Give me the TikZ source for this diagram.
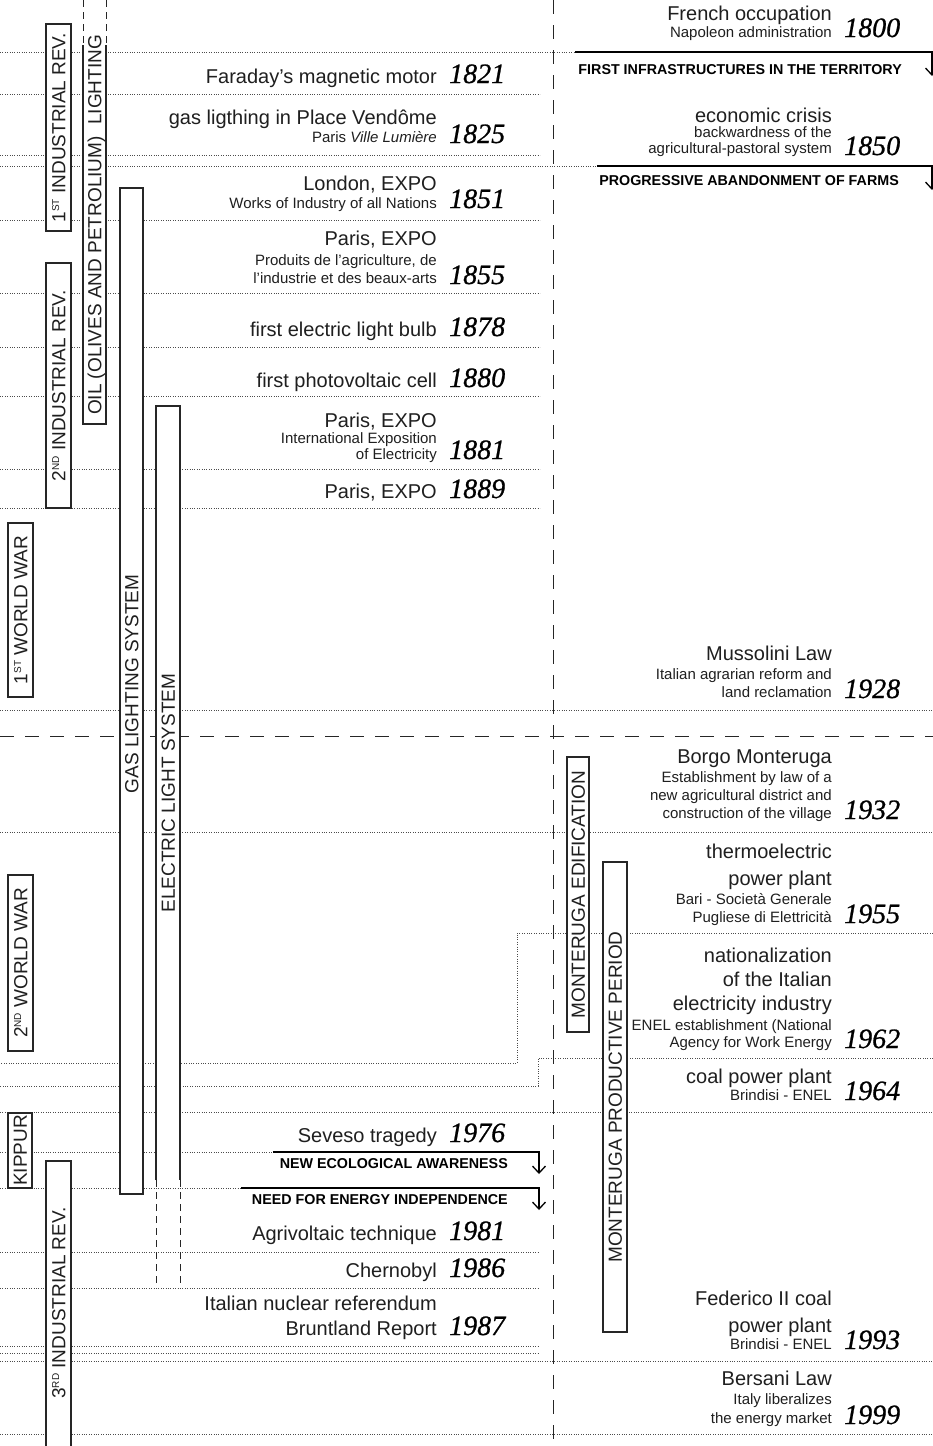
\documentclass[tikz,border=0pt]{standalone}
\usepackage{fontspec}
\setmainfont{Liberation Sans}
\newfontfamily\yearfont[FakeBold=0.8]{Liberation Serif}
\usetikzlibrary{arrows.meta}
\newcommand{\mf}{\fontsize{20}{24}\selectfont}
\newcommand{\subfn}{\fontsize{15}{18}\selectfont}
\newcommand{\yf}{\yearfont\itshape\fontsize{28}{30}\selectfont}
\newcommand{\bxf}{\fontsize{19}{22}\selectfont}
\newcommand{\bdf}{\bfseries\fontsize{14.3}{16}\selectfont}
\newcommand{\supcap}[1]{\raisebox{6.2pt}{\fontsize{10}{10}\selectfont #1}}
\tikzset{
  dotl/.style={line width=0.7pt, dash pattern=on 0.8pt off 1.6pt, black!70},
  boxl/.style={line width=1.1pt, draw=black!85, fill=white},
  boxo/.style={line width=1.1pt, draw=black!85},
  dashv/.style={line width=1pt, dash pattern=on 14pt off 11pt, black!85},
  dashs/.style={line width=1pt, dash pattern=on 7pt off 5pt, black!85},
  arrl/.style={line width=2pt, black, -{Straight Barb[length=7pt,width=13pt,line width=1.3pt]}},
  lt/.style={anchor=base east, inner sep=0pt, font=\mf, text=black!88},
  st/.style={anchor=base east, inner sep=0pt, font=\subfn, text=black!88},
  yr/.style={anchor=base west, inner sep=0pt, font=\yf},
  bl/.style={rotate=90, anchor=base, inner sep=0pt, font=\bxf, text=black!88},
  bd/.style={anchor=base east, inner sep=0pt, font=\bdf},
}
\begin{document}
\begin{tikzpicture}[x=1pt,y=-1pt]
\useasboundingbox (0,0) rectangle (933,1446);
\fill[white] (0,0) rectangle (933,1446);
% dotted separators
\draw[dotl] (0,52) -- (575,52);
\draw[dotl] (0,94) -- (540,94);
\draw[dotl] (0,155) -- (540,155);
\draw[dotl] (0,166) -- (597,166);
\draw[dotl] (0,220) -- (540,220);
\draw[dotl] (0,293) -- (540,293);
\draw[dotl] (0,347) -- (540,347);
\draw[dotl] (0,396) -- (540,396);
\draw[dotl] (0,469) -- (540,469);
\draw[dotl] (0,508) -- (540,508);
\draw[dotl] (0,710) -- (933,710);
\draw[dotl] (0,832) -- (933,832);
\draw[dotl] (933,933) -- (517,933) -- (517,1063) -- (0,1063);
\draw[dotl] (933,1058) -- (538,1058) -- (538,1086) -- (0,1086);
\draw[dotl] (0,1112) -- (933,1112);
\draw[dotl] (0,1152) -- (273,1152);
\draw[dotl] (0,1188) -- (241,1188);
\draw[dotl] (0,1252) -- (539,1252);
\draw[dotl] (0,1288) -- (539,1288);
\draw[dotl] (0,1346) -- (539,1346);
\draw[dotl] (0,1353) -- (539,1353);
\draw[dotl] (0,1361) -- (933,1361);
\draw[dotl] (0,1434) -- (933,1434);
% dashed dividers
\draw[dashv] (553,0) -- (553,1446);
\draw[dashv] (0,736) -- (933,736);
% boxes
\fill[white] (83,0) rectangle (106,424);
\draw[dashs] (83,0) -- (83,45);
\draw[dashs] (106,0) -- (106,45);
\draw[boxo] (83,45) -- (83,424) -- (106,424) -- (106,45);
\draw[boxl] (46,24) rectangle (71,231);
\draw[boxl] (46,263) rectangle (71,508);
\draw[boxl] (8,523) rectangle (33,697);
\draw[boxl] (120,188) rectangle (143,1194);
\fill[white] (156,406) rectangle (180,1180);
\draw[boxo] (156,1180) -- (156,406) -- (180,406) -- (180,1180);
\draw[dashs] (156,1180) -- (156,1288);
\draw[dashs] (180,1180) -- (180,1288);
\draw[boxl] (8,875) rectangle (33,1051);
\draw[boxl] (8,1113) rectangle (32,1188);
\draw[boxl] (46,1161) rectangle (71,1470);
\draw[boxl] (567,757) rectangle (589,1032);
\draw[boxl] (603,862) rectangle (627,1332);
% box labels
\node[bl] (b1ind) at (65.3,127.5) {1\supcap{ST} INDUSTRIAL REV.};
\node[bl] (b2ind) at (65.3,385.5) {2\supcap{ND} INDUSTRIAL REV.};
\node[bl] (boil) at (101.3,225) {OIL (OLIVES AND PETROLIUM)\hspace{0.6em}LIGHTING};
\node[bl] (b1ww) at (27.3,610) {1\supcap{ST} WORLD WAR};
\node[bl] (bgas) at (138.3,684) {GAS LIGHTING SYSTEM};
\node[bl] (belec) at (174.8,793) {ELECTRIC LIGHT SYSTEM};
\node[bl] (b2ww) at (27.3,963) {2\supcap{ND} WORLD WAR};
\node[bl] (bkip) at (26.8,1150.5) {KIPPUR};
\node[bl] (b3ind) at (65.3,1303) {3\supcap{RD} INDUSTRIAL REV.};
\node[bl] (bmed) at (584.8,894.5) {MONTERUGA EDIFICATION};
\node[bl] (bmpp) at (621.8,1097) {MONTERUGA PRODUCTIVE PERIOD};
% arrows
\coordinate (a1s) at (575,52); \coordinate (a1c) at (932,52); \coordinate (a1e) at (932,76);
\coordinate (a2s) at (597,166); \coordinate (a2c) at (932,166); \coordinate (a2e) at (932,190);
\coordinate (a3s) at (273,1152); \coordinate (a3c) at (539,1152); \coordinate (a3e) at (539,1174);
\coordinate (a4s) at (241,1188); \coordinate (a4c) at (539,1188); \coordinate (a4e) at (539,1210);
\draw[arrl] (a1s) -- (a1c) -- (a1e);
\draw[arrl] (a2s) -- (a2c) -- (a2e);
\draw[arrl] (a3s) -- (a3c) -- (a3e);
\draw[arrl] (a4s) -- (a4c) -- (a4e);
\node[bd] (tfirst) at (902,74) {FIRST INFRASTRUCTURES IN THE TERRITORY};
\node[bd] (tprog) at (899,185) {PROGRESSIVE ABANDONMENT OF FARMS};
\node[bd] (tnew) at (508,1168) {NEW ECOLOGICAL AWARENESS};
\node[bd] (tneed) at (508,1204) {NEED FOR ENERGY INDEPENDENCE};
% left column events
\node[lt] (e1821) at (437,83) {Faraday’s magnetic motor};
\node[yr] (y1821) at (449,83) {1821};
\node[lt] (e1825a) at (437,124) {gas ligthing in Place Vendôme};
\node[st] (e1825b) at (437,142) {Paris \textit{Ville Lumière}};
\node[yr] (y1825) at (449,143) {1825};
\node[lt] (e1851a) at (437,190) {London, EXPO};
\node[st] (e1851b) at (437,208) {Works of Industry of all Nations};
\node[yr] (y1851) at (449,208) {1851};
\node[lt] (e1855a) at (437,245) {Paris, EXPO};
\node[st] (e1855b) at (437,265) {Produits de l’agriculture, de};
\node[st] (e1855c) at (437,283) {l’industrie et des beaux-arts};
\node[yr] (y1855) at (449,284) {1855};
\node[lt] (e1878) at (437,336) {first electric light bulb};
\node[yr] (y1878) at (449,336) {1878};
\node[lt] (e1880) at (437,387) {first photovoltaic cell};
\node[yr] (y1880) at (449,387) {1880};
\node[lt] (e1881a) at (437,427) {Paris, EXPO};
\node[st] (e1881b) at (437,443) {International Exposition};
\node[st] (e1881c) at (437,459) {of Electricity};
\node[yr] (y1881) at (449,459) {1881};
\node[lt] (e1889) at (437,498) {Paris, EXPO};
\node[yr] (y1889) at (449,498) {1889};
\node[lt] (e1976) at (437,1142) {Seveso tragedy};
\node[yr] (y1976) at (449,1142) {1976};
\node[lt] (e1981) at (437,1240) {Agrivoltaic technique};
\node[yr] (y1981) at (449,1240) {1981};
\node[lt] (e1986) at (437,1277) {Chernobyl};
\node[yr] (y1986) at (449,1277) {1986};
\node[lt] (e1987a) at (437,1310) {Italian nuclear referendum};
\node[lt] (e1987b) at (437,1335) {Bruntland Report};
\node[yr] (y1987) at (449,1335) {1987};
% right column events
\node[lt] (e1800a) at (832,20) {French occupation};
\node[st] (e1800b) at (832,37) {Napoleon administration};
\node[yr] (y1800) at (844,37) {1800};
\node[lt] (e1850a) at (832,122) {economic crisis};
\node[st] (e1850b) at (832,137) {backwardness of the};
\node[st] (e1850c) at (832,153) {agricultural-pastoral system};
\node[yr] (y1850) at (844,155) {1850};
\node[lt] (e1928a) at (832,660) {Mussolini Law};
\node[st] (e1928b) at (832,679) {Italian agrarian reform and};
\node[st] (e1928c) at (832,697) {land reclamation};
\node[yr] (y1928) at (844,698) {1928};
\node[lt] (e1932a) at (832,763) {Borgo Monteruga};
\node[st] (e1932b) at (832,782) {Establishment by law of a};
\node[st] (e1932c) at (832,800) {new agricultural district and};
\node[st] (e1932d) at (832,818) {construction of the village};
\node[yr] (y1932) at (844,819) {1932};
\node[lt] (e1955a) at (832,858) {thermoelectric};
\node[lt] (e1955b) at (832,885) {power plant};
\node[st] (e1955c) at (832,904) {Bari - Società Generale};
\node[st] (e1955d) at (832,922) {Pugliese di Elettricità};
\node[yr] (y1955) at (844,923) {1955};
\node[lt] (e1962a) at (832,962) {nationalization};
\node[lt] (e1962b) at (832,986) {of the Italian};
\node[lt] (e1962c) at (832,1010) {electricity industry};
\node[st] (e1962d) at (832,1030) {ENEL establishment (National};
\node[st] (e1962e) at (832,1047) {Agency for Work Energy};
\node[yr] (y1962) at (844,1048) {1962};
\node[lt] (e1964a) at (832,1083) {coal power plant};
\node[st] (e1964b) at (832,1100) {Brindisi - ENEL};
\node[yr] (y1964) at (844,1100) {1964};
\node[lt] (e1993a) at (832,1305) {Federico II coal};
\node[lt] (e1993b) at (832,1332) {power plant};
\node[st] (e1993c) at (832,1349) {Brindisi - ENEL};
\node[yr] (y1993) at (844,1349) {1993};
\node[lt] (e1999a) at (832,1385) {Bersani Law};
\node[st] (e1999b) at (832,1404) {Italy liberalizes};
\node[st] (e1999c) at (832,1423) {the energy market};
\node[yr] (y1999) at (844,1424) {1999};
\end{tikzpicture}
\end{document}
